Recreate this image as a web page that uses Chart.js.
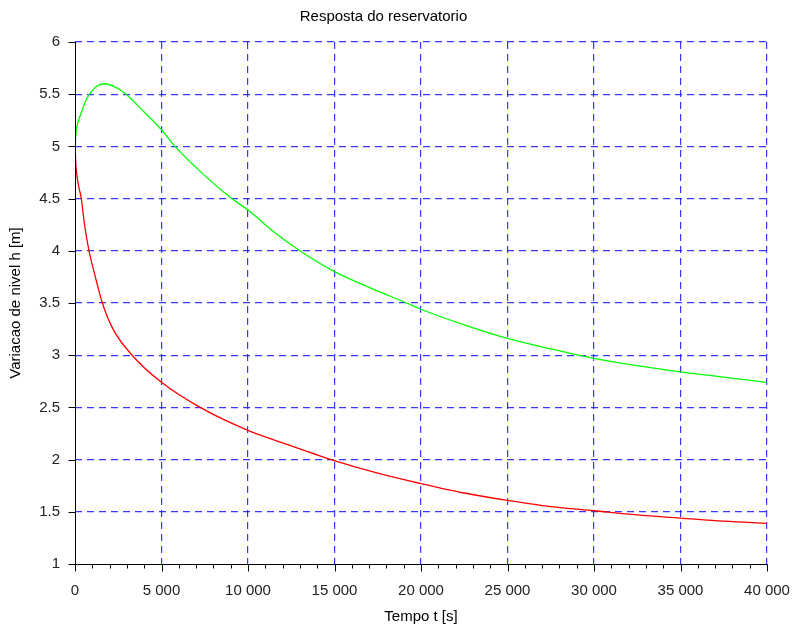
<!DOCTYPE html>
<html>
<head>
<meta charset="utf-8">
<script src="https://cdn.jsdelivr.net/npm/chart.js@4"></script>
<style>
  html, body { margin: 0; padding: 0; background: #fff; }
  #wrap { width: 793px; height: 626px; }
</style>
</head>
<body>
<div id="wrap"><canvas id="chart"></canvas></div>
<script>
// tempo (s) e nivel (m)
const timeGreen = [0, 50, 150, 364, 600, 850, 1200, 1715, 2300, 2950, 4000, 5000, 5780, 7500, 9060, 10000, 11500, 13000, 15000, 17000, 19170, 20000, 22500, 25000, 27500, 30000, 32500, 35000, 37500, 40000];
const levelGreen = [5.0, 5.12, 5.22, 5.32, 5.43, 5.5, 5.57, 5.6, 5.57, 5.5, 5.33, 5.16, 5.0, 4.72, 4.5, 4.39, 4.18, 4.0, 3.8, 3.65, 3.5, 3.44, 3.29, 3.16, 3.06, 2.97, 2.9, 2.84, 2.79, 2.74];

const timeRed = [0, 60, 200, 364, 550, 810, 1100, 1580, 2200, 3300, 5000, 7230, 10000, 12000, 14800, 17500, 20000, 22500, 25000, 27500, 30000, 32500, 35000, 37500, 40000];
const levelRed = [5.0, 4.8, 4.63, 4.5, 4.25, 4.0, 3.8, 3.5, 3.25, 3.0, 2.74, 2.5, 2.28, 2.16, 2.0, 1.87, 1.77, 1.68, 1.61, 1.55, 1.51, 1.47, 1.44, 1.41, 1.39];

const xTicks = [0, 5000, 10000, 15000, 20000, 25000, 30000, 35000, 40000];
const xMinorStep = 1000;
const yTicks = [1, 1.5, 2, 2.5, 3, 3.5, 4, 4.5, 5, 5.5, 6];

const gridBlue = "rgba(20,20,255,0.85)";
const FONT = "'Liberation Sans', Arial, sans-serif";

function toPoints(xs, ys) {
  return xs.map((x, i) => ({ x: x, y: ys[i] }));
}

// no grid line on top of the axis itself
function gridColor(minValue) {
  return (ctx) => (ctx.tick && ctx.tick.value === minValue ? "rgba(0,0,0,0)" : gridBlue);
}

// marcas dos eixos (maiores e menores), desenhadas a partir das escalas
const axisTicks = {
  id: "axisTicks",
  afterDraw(chart) {
    const x = chart.scales.x;
    const y = chart.scales.y;
    const ctx = chart.ctx;
    const bottom = Math.round(chart.chartArea.bottom) + 0.5;
    const left = Math.round(chart.chartArea.left) + 0.5;
    ctx.save();
    ctx.setLineDash([]);
    ctx.strokeStyle = "#000";
    ctx.lineWidth = 1;
    ctx.beginPath();
    ctx.moveTo(left, Math.round(chart.chartArea.top));
    ctx.lineTo(left, bottom);
    ctx.lineTo(Math.round(chart.chartArea.right) + 0.5, bottom);
    for (let v = 0; v <= 40000; v += xMinorStep) {
      const px = Math.round(x.getPixelForValue(v)) + 0.5;
      const len = xTicks.includes(v) ? 7 : 4;
      ctx.moveTo(px, bottom);
      ctx.lineTo(px, bottom + len);
    }
    yTicks.forEach((v) => {
      const py = Math.round(y.getPixelForValue(v)) + 0.5;
      ctx.moveTo(left, py);
      ctx.lineTo(left - 7, py);
    });
    ctx.stroke();
    ctx.restore();
  },
};

new Chart(document.getElementById("chart"), {
  type: "line",
  data: {
    datasets: [
      {
        data: toPoints(timeGreen, levelGreen),
        borderColor: "#00ff00",
        borderWidth: 1.3,
        pointRadius: 0,
        cubicInterpolationMode: "monotone",
      },
      {
        data: toPoints(timeRed, levelRed),
        borderColor: "#ff0000",
        borderWidth: 1.3,
        pointRadius: 0,
        cubicInterpolationMode: "monotone",
      },
    ],
  },
  options: {
    responsive: true,
    maintainAspectRatio: false,
    animation: false,
    layout: { padding: { left: 0, right: 26, top: 0, bottom: 0 } },
    plugins: {
      legend: { display: false },
      tooltip: { enabled: false },
      title: {
        display: true,
        text: "Resposta do reservatorio",
        color: "#000",
        font: { family: FONT, size: 15, weight: "normal", lineHeight: 1.2 },
        padding: { top: 8, bottom: 16 },
      },
    },
    scales: {
      x: {
        type: "linear",
        min: 0,
        max: 40000,
        afterBuildTicks: (s) => { s.ticks = xTicks.map((v) => ({ value: v })); },
        afterFit: (s) => {
          s.height = 62;
          s.paddingLeft = 0;
          s.paddingRight = 0;
        },
        ticks: {
          color: "#222",
          font: { family: FONT, size: 15 },
          padding: 18,
          maxRotation: 0,
          callback: (v) => (v === 0 ? "0" : v / 1000 + " 000"),
        },
        grid: { color: gridColor(0), lineWidth: 1.2, drawTicks: false },
        border: { display: false, dash: [7, 5] },
        title: {
          display: true,
          text: "Tempo t [s]",
          color: "#000",
          font: { family: FONT, size: 15, lineHeight: 1.2 },
          padding: { top: 0, bottom: 0 },
        },
      },
      y: {
        min: 1,
        max: 6,
        afterBuildTicks: (s) => { s.ticks = yTicks.map((v) => ({ value: v })); },
        afterFit: (s) => {
          s.width = 75;
          s.paddingTop = 0;
          s.paddingBottom = 0;
        },
        ticks: {
          color: "#222",
          font: { family: FONT, size: 15 },
          padding: 15,
          callback: (v) => String(v),
        },
        grid: { color: gridColor(1), lineWidth: 1.2, drawTicks: false },
        border: { display: false, dash: [7, 5] },
        title: {
          display: true,
          text: "Variacao de nivel h [m]",
          color: "#000",
          font: { family: FONT, size: 15, lineHeight: 1.2 },
          padding: { top: 7, bottom: 7 },
        },
      },
    },
  },
  plugins: [axisTicks],
});
</script>
</body>
</html>
